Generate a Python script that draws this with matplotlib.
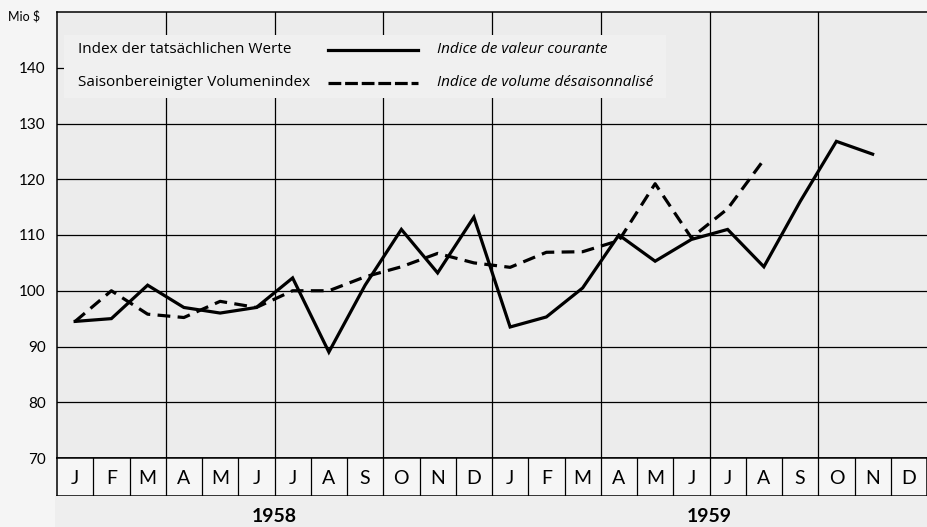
from matplotlib import pyplot as plt
from matplotlib.patches import Rectangle

#####

months = ['J','F','M','A','M','J','J','A','S','O','N','D'] * 2
years = ['1958', '1959']

# current value index, Jan 1958 - Nov 1959
valeur = [94.5, 95.0, 101.0, 97.0, 96.0, 97.0, 102.3, 89.0, 101.0, 111.0, 103.2, 113.2,
          93.5, 95.3, 100.5, 110.0, 105.3, 109.2, 111.0, 104.3, 116.0, 126.8, 124.5]
# seasonally adjusted volume index, Jan 1958 - Aug 1959
volume = [94.5, 100.0, 95.8, 95.2, 98.1, 97.0, 100.0, 100.0, 102.5, 104.3, 106.7, 105.0,
          104.2, 106.9, 107.0, 109.0, 119.2, 109.5, 114.7, 123.5]

yticks = [70, 80, 90, 100, 110, 120, 130, 140]
label_de = ['Index der tatsächlichen Werte', 'Saisonbereinigter Volumenindex']
label_fr = ['Indice de valeur courante', 'Indice de volume désaisonnalisé']

#####

plt.rcParams['font.family'] = ['Lato', 'DejaVu Sans']

W, H = 927., 527.
fig = plt.figure(figsize=(9.27, 5.27), dpi=100)
fig.patch.set_facecolor('#f5f5f5')

# strip behind the year labels
fig.patches.append(Rectangle((55/W, 0), 1, 31/H, transform=fig.transFigure,
                             facecolor='#eeeeee', edgecolor='none', zorder=0))

ax = fig.add_axes([57/W, (H-458)/H, 870/W, (458-12)/H])
ax.set_facecolor('#ececec')
ax.set_xlim(0, 24)
ax.set_ylim(70, 150)

for yv in [80, 90, 100, 110, 120, 130]:
    ax.axhline(yv, color='black', lw=0.9, zorder=1)
for xv in range(3, 24, 3):
    ax.axvline(xv, color='black', lw=0.9, zorder=1)
ax.plot([0, 0.35], [140, 140], color='black', lw=0.9, zorder=1)

for sp in ['left', 'top', 'bottom']:
    ax.spines[sp].set_linewidth(1.1)
ax.spines['right'].set_visible(False)

ax.set_xticks([])
ax.set_yticks(yticks)
ax.set_yticklabels([str(v) for v in yticks], fontsize=11)
ax.tick_params(axis='y', length=0, pad=8)

xs_val = [i + 0.5 for i in range(len(valeur))]
xs_vol = [i + 0.5 for i in range(len(volume))]
ax.plot(xs_val, valeur, color='black', lw=2.3, solid_joinstyle='miter', zorder=4)
ax.plot(xs_vol, volume, color='black', lw=2.3, ls=(0, (4, 2.3)), zorder=4)

# legend block
ax.add_patch(Rectangle((0.2, 134.6), 16.6, 11.2, facecolor='#f0f0f0', edgecolor='none', zorder=2))
for row, (yl, ls) in enumerate([(143.2, '-'), (137.3, (0, (4, 1.2)))]):
    ax.text(0.58, yl, label_de[row], fontsize=11, va='center', ha='left', zorder=3,
            family='Open Sans')
    ax.plot([7.48, 9.96], [yl, yl], color='black', lw=2.3, ls=ls, zorder=3)
    ax.text(10.48, yl, label_fr[row], fontsize=11, va='center', ha='left',
            style='italic', zorder=3, family='Open Sans')

fig.text(8/W, 1 - 16/H, 'Mio $', fontsize=9, va='center', ha='left')

# month boxes
mx = fig.add_axes([57/W, (H-496)/H, 870/W, (496-458)/H])
mx.set_facecolor('#f6f6f6')
mx.set_xlim(0, 24)
mx.set_ylim(0, 1)
mx.set_xticks([])
mx.set_yticks([])
for sp in mx.spines.values():
    sp.set_linewidth(1.1)
for i in range(1, 24):
    mx.axvline(i, color='black', lw=0.9)
for i, m in enumerate(months):
    mx.text(i + 0.5, 0.45, m, fontsize=14, ha='center', va='center')

for k, yr in enumerate(years):
    xc = (57 + (6 + 12*k) * 36.25) / W
    fig.text(xc, 1 - 517/H, yr, fontsize=14, fontweight='bold', ha='center', va='center')

fig.savefig('out.png', dpi=100, facecolor=fig.get_facecolor())
